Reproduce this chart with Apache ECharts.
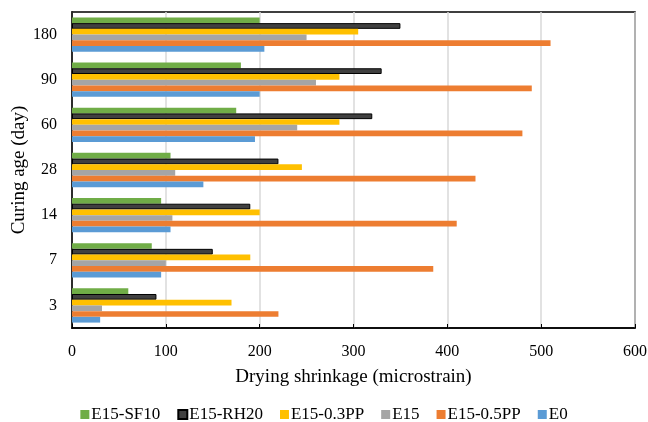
<!DOCTYPE html>
<html>
<head>
<meta charset="utf-8">
<script src="https://cdn.jsdelivr.net/npm/echarts@6/dist/echarts.min.js"></script>
<style>
  html, body { margin: 0; padding: 0; background: #fff; }
  #chart { width: 648px; height: 422px; }
</style>
</head>
<body>
<div id="chart"></div>
<script>
// Curing ages (bottom to top on the category axis)
const curingAges = ['3', '7', '14', '28', '60', '90', '180'];

// Drying shrinkage (microstrain) per mix
const e15sf10 = [60, 85, 95, 105, 175, 180, 200];
const e15rh20 = [90, 150, 190, 220, 320, 330, 350];
const e15pp03 = [170, 190, 200, 245, 285, 285, 305];
const e15 = [32, 100, 107, 110, 240, 260, 250];
const e15pp05 = [220, 385, 410, 430, 480, 490, 510];
const e0 = [30, 95, 105, 140, 195, 200, 205];

const legendOrder = ['E15-SF10', 'E15-RH20', 'E15-0.3PP', 'E15', 'E15-0.5PP', 'E0'];
const xTicks = { min: 0, max: 600, interval: 100 };

const font = '"Liberation Serif", "Times New Roman", serif';

function bar(name, data, color, border) {
  return {
    name: name,
    type: 'bar',
    data: data,
    barGap: '0%',
    barCategoryGap: '24%',
    itemStyle: border
      ? { color: color, borderColor: '#000', borderWidth: 1 }
      : { color: color },
    emphasis: { disabled: true }
  };
}

const chart = echarts.init(document.getElementById('chart'), null, { renderer: 'canvas' });
chart.setOption({
  animation: false,
  backgroundColor: '#fff',
  textStyle: { fontFamily: font },
  grid: {
    left: 72, right: 13, top: 12, bottom: 94,
    containLabel: false,
    outerBoundsMode: 'none',
    show: true, borderColor: '#000', borderWidth: 1.5
  },
  legend: {
    data: legendOrder,
    top: 401,
    left: 'center',
    itemWidth: 9,
    itemHeight: 9,
    itemGap: 17,
    icon: 'rect',
    textStyle: { fontFamily: font, fontSize: 17, color: '#000', padding: [0, 0, 0, -3] }
  },
  xAxis: {
    type: 'value',
    min: xTicks.min, max: xTicks.max, interval: xTicks.interval,
    name: 'Drying shrinkage (microstrain)',
    nameLocation: 'middle',
    nameGap: 40,
    nameTextStyle: { fontFamily: font, fontSize: 19, color: '#000' },
    axisLine: { show: true, lineStyle: { color: '#000', width: 1.5 } },
    axisTick: { show: true, inside: true, length: 4, lineStyle: { color: '#000' } },
    axisLabel: { fontFamily: font, fontSize: 16, color: '#000', margin: 16 },
    splitLine: { show: true, lineStyle: { color: '#d9d9d9', width: 1.5 } }
  },
  yAxis: {
    type: 'category',
    data: curingAges,
    name: 'Curing age (day)',
    nameLocation: 'middle',
    nameGap: 43,
    nameMoveOverlap: false,
    nameTextStyle: { fontFamily: font, fontSize: 19, color: '#000' },
    axisLine: { show: true, lineStyle: { color: '#000', width: 1.5 } },
    axisTick: { show: false },
    axisLabel: { fontFamily: font, fontSize: 16, color: '#000', margin: 15 },
    splitLine: { show: false }
  },
  series: [
    bar('E15-SF10', e15sf10, '#70AD47'),
    bar('E15-RH20', e15rh20, '#404040', true),
    bar('E15-0.3PP', e15pp03, '#FFC000'),
    bar('E15', e15, '#A5A5A5'),
    bar('E15-0.5PP', e15pp05, '#ED7D31'),
    bar('E0', e0, '#5B9BD5')
  ]
});
</script>
</body>
</html>
